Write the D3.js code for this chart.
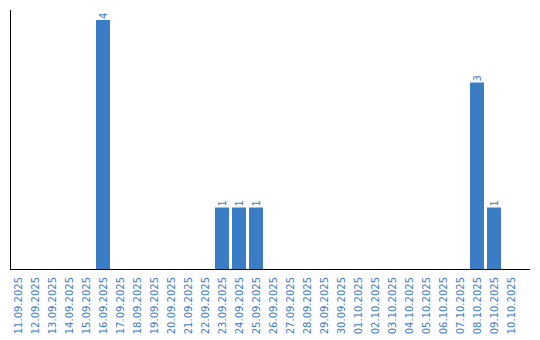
<!DOCTYPE html>
<html>
<head>
<meta charset="utf-8">
<script src="https://cdn.jsdelivr.net/npm/d3@7"></script>
<style>
    body { margin: 0; background: #fff; }
    svg { display: block; }
    text { font-family: "DejaVu Sans", sans-serif; font-size: 10px; fill: #3b7dc4; }
</style>
</head>
<body>
<div id="chart"></div>
<script>
// Daily counts, 11.09.2025 - 10.10.2025
const dates = [
    '11.09.2025', '12.09.2025', '13.09.2025', '14.09.2025', '15.09.2025',
    '16.09.2025', '17.09.2025', '18.09.2025', '19.09.2025', '20.09.2025',
    '21.09.2025', '22.09.2025', '23.09.2025', '24.09.2025', '25.09.2025',
    '26.09.2025', '27.09.2025', '28.09.2025', '29.09.2025', '30.09.2025',
    '01.10.2025', '02.10.2025', '03.10.2025', '04.10.2025', '05.10.2025',
    '06.10.2025', '07.10.2025', '08.10.2025', '09.10.2025', '10.10.2025'
];
const counts = [
    0, 0, 0, 0, 0,
    4, 0, 0, 0, 0,
    0, 0, 1, 1, 1,
    0, 0, 0, 0, 0,
    0, 0, 0, 0, 0,
    0, 0, 3, 1, 0
];
const yMax = 4;

const width = 540;
const height = 340;
const plot = { left: 10.5, right: 530, top: 10, bottom: 270 };

const data = dates.map((d, i) => ({ date: d, value: counts[i] }));

const svg = d3.select('#chart')
    .append('svg')
    .attr('width', width)
    .attr('height', height);

const x = d3.scaleBand()
    .domain(dates)
    .range([11, 518])
    .paddingInner(3 / 17)
    .paddingOuter(0);

const y = d3.scaleLinear()
    .domain([0, yMax])
    .range([plot.bottom, 20]);

// bars
svg.selectAll('.bar')
    .data(data.filter(d => d.value > 0))
    .enter()
    .append('rect')
    .attr('class', 'bar')
    .attr('x', d => x(d.date))
    .attr('y', d => y(d.value))
    .attr('width', x.bandwidth())
    .attr('height', d => y(0) - y(d.value))
    .attr('fill', '#3b7dc4');

// value labels above bars
svg.selectAll('.value')
    .data(data.filter(d => d.value > 0))
    .enter()
    .append('text')
    .attr('class', 'value')
    .attr('transform', d => `translate(${x(d.date) + x.bandwidth() / 2},${y(d.value) - 1}) rotate(-90)`)
    .attr('dy', '0.35em')
    .attr('text-anchor', 'start')
    .text(d => d.value);

// date labels
svg.selectAll('.date')
    .data(dates)
    .enter()
    .append('text')
    .attr('class', 'date')
    .attr('transform', d => `translate(${x(d) + x.bandwidth() / 2},277) rotate(-90)`)
    .attr('dy', '0.35em')
    .attr('text-anchor', 'end')
    .text(d => d);

// axis lines
svg.append('line')
    .attr('x1', plot.left).attr('x2', plot.left)
    .attr('y1', plot.top).attr('y2', plot.bottom)
    .attr('stroke', '#000');

svg.append('line')
    .attr('x1', plot.left).attr('x2', plot.right)
    .attr('y1', plot.bottom - 0.5).attr('y2', plot.bottom - 0.5)
    .attr('stroke', '#000');
</script>
</body>
</html>
